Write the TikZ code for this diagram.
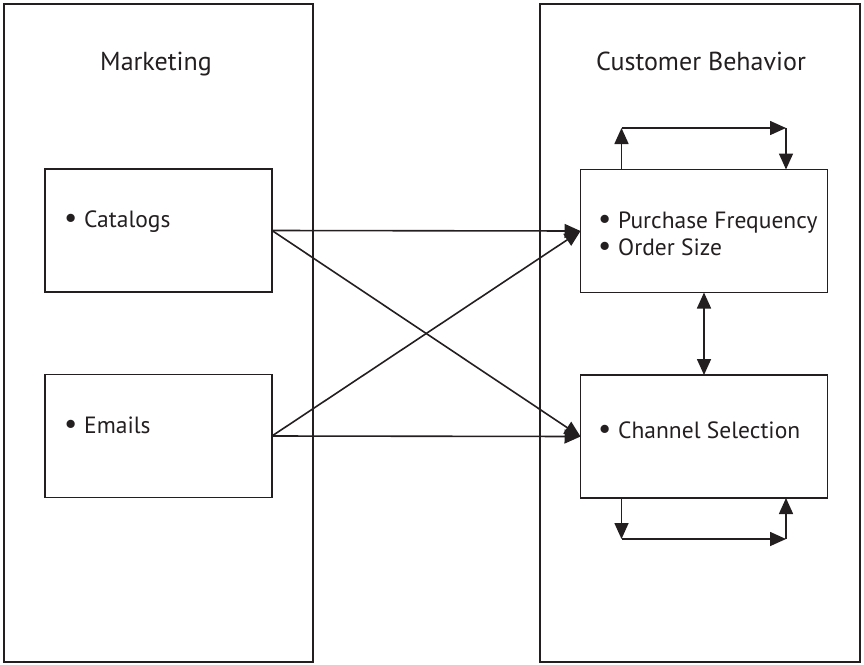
\documentclass[tikz,border=0pt]{standalone}
\usepackage{fontspec}
\setmainfont{PT Sans}
\usetikzlibrary{arrows.meta}
\definecolor{ink}{HTML}{231F20}
\newcommand{\bul}{\makebox[20pt][l]{\scalebox{1.25}{•}}}
\begin{document}
\begin{tikzpicture}[x=1pt,y=-1pt,
  box/.style={draw=ink,line width=1.8pt,minimum width=#1,inner sep=0pt,outer sep=0pt},
  lbl/.style={text=ink,font=\fontsize{26}{30}\selectfont,inner sep=0pt},
  item/.style={text=ink,font=\fontsize{23.5}{28}\selectfont,inner sep=0pt,anchor=base west},
  con/.style={draw=ink,line width=1.6pt,-{Triangle[length=16pt,width=14pt]}},
  dcon/.style={draw=ink,line width=1.6pt,{Triangle[length=16pt,width=14pt]}-{Triangle[length=16pt,width=14pt]}}]
\useasboundingbox (0,0) rectangle (864,664);
% outer panels
\node[box=309pt,minimum height=658pt] (mkt) at (158.5,333) {};
\node[box=320pt,minimum height=658pt] (cb) at (700,333) {};
% titles
\node[lbl,anchor=base] (mktt) at (156,70) {Marketing};
\node[lbl,anchor=base] (cbt) at (701,70) {Customer Behavior};
% inner boxes
\node[box=227pt,minimum height=123pt] (cat) at (158.5,230.5) {};
\node[box=227pt,minimum height=123pt] (em) at (158.5,436) {};
\node[box=247pt,minimum height=123pt] (pur) at (704,231) {};
\node[box=247pt,minimum height=123pt] (chan) at (704,436.5) {};
% texts
\node[item] (catt) at (64,227) {\bul Catalogs};
\node[item] (emt) at (64,433) {\bul Emails};
\node[item] (purt) at (598,228) {\bul Purchase Frequency};
\node[item] (ordt) at (598,255) {\bul Order Size};
\node[item] (chant) at (598,438) {\bul Channel Selection};
% cross connectors
\draw[con] (cat.east) -- (pur.west);
\draw[con] (cat.east) -- (chan.west);
\draw[con] (em.east) -- (pur.west);
\draw[con] (em.east) -- (chan.west);
% vertical double arrow
\draw[dcon] (pur.south) -- (chan.north);
% top loop
\coordinate (tl) at (621.5,128);
\coordinate (tr) at (786,128);
\draw[con] (tl |- pur.north) -- (tl);
\draw[con] (tl) -- (tr);
\draw[con] (tr) -- (tr |- pur.north);
% bottom loop
\coordinate (bl) at (621.5,539);
\coordinate (br) at (786,539);
\draw[con] (bl |- chan.south) -- (bl);
\draw[con] (bl) -- (br);
\draw[con] (br) -- (br |- chan.south);
\end{tikzpicture}
\end{document}
